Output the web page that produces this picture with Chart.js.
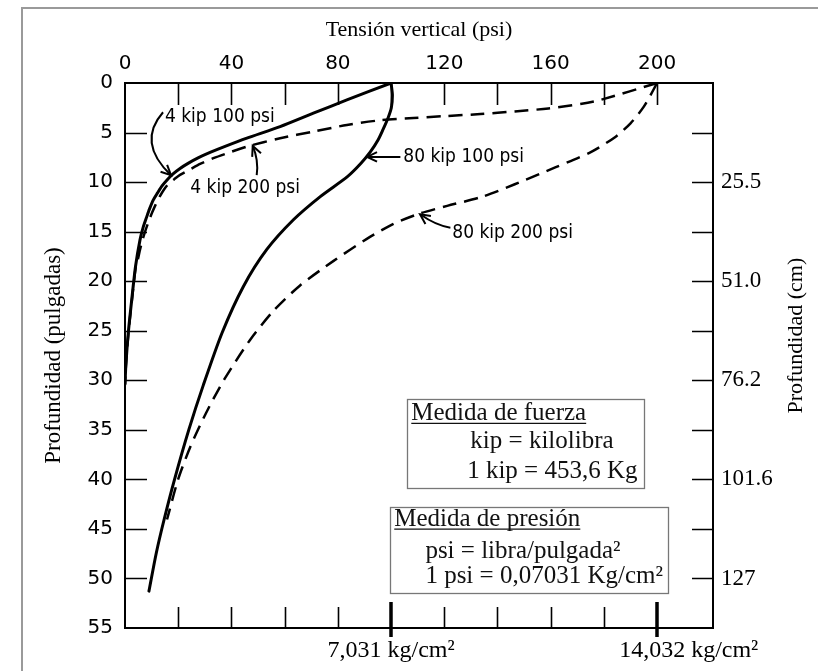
<!DOCTYPE html>
<html>
<head>
<meta charset="utf-8">
<script src="https://cdn.jsdelivr.net/npm/chart.js@4.4.1/dist/chart.umd.min.js"></script>
<style>
html,body{margin:0;padding:0;background:#fff;}
canvas{display:block;}
</style>
</head>
<body>
<canvas id="c" width="818" height="671"></canvas>
<script>
// ---- Data: depth (inches) vs vertical stress (psi) ----
const kip4psi100Depth  = [0, 1.71, 3.05, 4.4, 5.57, 6.40, 7.01, 7.56, 8.11, 8.62, 9.17, 9.78, 10.38, 11.09, 11.79, 12.70, 13.51, 14.62, 15.83, 18.52, 21.9, 25.2, 28.6, 30.4];
const kip4psi100Stress = [100, 83.4, 70.8, 58.3, 45.8, 37.62, 31.98, 27.46, 23.70, 20.69, 18.06, 15.80, 13.92, 12.23, 10.65, 9.22, 8.16, 6.77, 5.64, 3.95, 2.52, 1.24, 0.3, 0];

const kip4psi200Depth  = [0, 1.71, 2.09, 2.57, 2.87, 3.13, 3.33, 3.53, 3.76, 4.23, 4.91, 5.57, 6.42, 7.16, 7.59, 8.17, 8.72, 9.27, 9.73, 10.11, 10.74, 11.49, 12.30, 13.10, 14.01, 14.92, 15.83, 16.83, 17.84, 18.52, 21.9, 25.2, 28.6, 30.4];
const kip4psi200Stress = [200, 178.7, 171.7, 159.1, 146.5, 133.6, 121.1, 108.4, 96, 83.4, 70.8, 58.3, 45.8, 37.62, 33.22, 28.22, 24.45, 20.69, 18.43, 16.55, 14.67, 12.98, 11.47, 10.16, 8.84, 7.64, 6.58, 5.64, 4.82, 4.06, 2.6, 1.3, 0.33, 0];

const kip80psi100Depth  = [0, 1.2, 2.5, 3.5, 4.74, 5.75, 6.96, 8.1, 9.45, 11.46, 13.8, 16.8, 20.53, 25.2, 30.44, 34.98, 40.02, 44.05, 47.38, 51.28];
const kip80psi100Stress = [100, 100.5, 100.1, 98.9, 96.9, 95.1, 92.2, 88.7, 83.6, 73.4, 63.3, 53.3, 44.5, 36.5, 29.5, 24.0, 18.6, 14.7, 11.8, 9.0];

const kip80psi200Depth  = [0, 2.39, 4.07, 5.44, 7.0, 8.52, 10.22, 11.51, 12.4, 13.2, 14.22, 15.73, 17.95, 20.43, 22.99, 25.93, 29.94, 33.3, 36.66, 40.02, 44.05];
const kip80psi200Stress = [200, 195.0, 190.0, 184.3, 174.9, 161.7, 146.5, 133.9, 121.1, 110.5, 100.9, 90.9, 78.4, 65.8, 55.8, 47.0, 37.25, 30.47, 24.64, 19.94, 15.8];

// ---- Axis ticks / labels ----
const topTickValues   = [0, 40, 80, 120, 160, 200];
const topMinorTicks   = [20, 40, 60, 80, 100, 120, 140, 160, 180, 200];
const leftTickValues  = [0, 5, 10, 15, 20, 25, 30, 35, 40, 45, 50, 55];
const sideMinorTicks  = [5, 10, 15, 20, 25, 30, 35, 40, 45, 50];
const rightTickValues = [10, 20, 30, 40, 50];
const rightTickLabels = ['25.5', '51.0', '76.2', '101.6', '127'];
const bottomMajorTicks = [100, 200];
const bottomLabels    = ['7,031 kg/cm²', '14,032 kg/cm²'];

// ---- Annotations (in data units: psi, inches) ----
const curveLabels = [
  {text: '4 kip 100 psi',  x: 15.0,  y: 3.43},
  {text: '4 kip 200 psi',  x: 24.5,  y: 10.6},
  {text: '80 kip 100 psi', x: 104.6, y: 7.46},
  {text: '80 kip 200 psi', x: 123.0, y: 15.1}
];
const curveArrows = [
  {from: [14.3, 2.95], ctrl: [4.3, 6.0],   to: [17.3, 9.3]},
  {from: [49.5, 9.3],  ctrl: [50.3, 7.8],  to: [48.0, 6.35]},
  {from: [103.5, 7.46], ctrl: [97, 7.46],  to: [91.0, 7.46]},
  {from: [122.3, 14.6], ctrl: [117, 14.4], to: [110.9, 13.25]}
];
const forceBoxLines    = ['Medida de fuerza', 'kip = kilolibra', '1 kip = 453,6 Kg'];
const pressureBoxLines = ['Medida de presión', 'psi = libra/pulgada²', '1 psi = 0,07031 Kg/cm²'];

const SERIF = '"Liberation Serif", "Times New Roman", serif';
const SANS = '"DejaVu Sans", "Liberation Sans", sans-serif';
const NARROW = '"DejaVu Sans Condensed", "Liberation Sans", sans-serif';

function pts(depths, stresses) { return depths.map((d, i) => ({x: stresses[i], y: d})); }

const lineBase = {
  showLine: true, pointRadius: 0, borderColor: '#000', backgroundColor: '#000',
  tension: 0.25, xAxisID: 'x', yAxisID: 'y', fill: false, borderCapStyle: 'round'
};

const datasets = [
  Object.assign({}, lineBase, {label: '4 kip 200 psi', data: pts(kip4psi200Depth, kip4psi200Stress), borderWidth: 2.5, borderDash: [14, 8], borderCapStyle: 'butt'}),
  Object.assign({}, lineBase, {label: '80 kip 200 psi', data: pts(kip80psi200Depth, kip80psi200Stress), borderWidth: 2.5, borderDash: [14, 8], borderCapStyle: 'butt'}),
  Object.assign({}, lineBase, {label: '4 kip 100 psi', data: pts(kip4psi100Depth, kip4psi100Stress), borderWidth: 3}),
  Object.assign({}, lineBase, {label: '80 kip 100 psi', data: pts(kip80psi100Depth, kip80psi100Stress), borderWidth: 3})
];

const framePlugin = {
  id: 'frame',
  beforeDraw(chart) {
    const ctx = chart.ctx;
    ctx.save();
    ctx.fillStyle = '#fff';
    ctx.fillRect(0, 0, chart.width, chart.height);
    ctx.strokeStyle = '#9a9a9a';
    ctx.lineWidth = 2;
    ctx.beginPath();
    ctx.moveTo(22, chart.height);
    ctx.lineTo(22, 8);
    ctx.lineTo(chart.width, 8);
    ctx.stroke();
    ctx.restore();
  }
};

function arrowHead(ctx, x, y, angle, len) {
  const a = 0.45;
  ctx.beginPath();
  ctx.moveTo(x - len * Math.cos(angle - a), y - len * Math.sin(angle - a));
  ctx.lineTo(x, y);
  ctx.lineTo(x - len * Math.cos(angle + a), y - len * Math.sin(angle + a));
  ctx.stroke();
}

const decorPlugin = {
  id: 'decor',
  afterDraw(chart) {
    const ctx = chart.ctx;
    const sx = chart.scales.x, sy = chart.scales.y;
    const X = v => sx.getPixelForValue(v), Y = v => sy.getPixelForValue(v);
    const a = chart.chartArea;
    ctx.save();
    ctx.strokeStyle = '#000';
    ctx.lineCap = 'butt';
    // inward ticks
    ctx.lineWidth = 1.6;
    ctx.beginPath();
    topMinorTicks.forEach(v => { const p = Math.round(X(v)) + 0.5; ctx.moveTo(p, a.top); ctx.lineTo(p, a.top + 22); });
    sideMinorTicks.forEach(v => { const p = Math.round(Y(v)) + 0.5; ctx.moveTo(a.left, p); ctx.lineTo(a.left + 22, p); });
    sideMinorTicks.forEach(v => { const p = Math.round(Y(v)) + 0.5; ctx.moveTo(a.right, p); ctx.lineTo(a.right - 21, p); });
    topMinorTicks.forEach(v => { if (bottomMajorTicks.indexOf(v) < 0) { const p = Math.round(X(v)) + 0.5; ctx.moveTo(p, a.bottom); ctx.lineTo(p, a.bottom - 21); } });
    ctx.stroke();
    ctx.lineWidth = 3.5;
    ctx.beginPath();
    bottomMajorTicks.forEach(v => { const p = Math.round(X(v)); ctx.moveTo(p, a.bottom + 9); ctx.lineTo(p, a.bottom - 26); });
    ctx.stroke();

    // bottom labels
    ctx.fillStyle = '#000';
    ctx.font = '24px ' + SERIF;
    ctx.textBaseline = 'middle';
    ctx.textAlign = 'center';
    ctx.fillText(bottomLabels[0], X(bottomMajorTicks[0]), a.bottom + 23);
    ctx.textAlign = 'left';
    ctx.fillText(bottomLabels[1], X(bottomMajorTicks[1]) - 38, a.bottom + 23);

    // right axis title (reads bottom to top)
    ctx.save();
    ctx.translate(796, Y(25.5));
    ctx.rotate(-Math.PI / 2);
    ctx.textAlign = 'center';
    ctx.font = '22px ' + SERIF;
    ctx.fillText('Profundidad (cm)', 0, 0);
    ctx.restore();

    // curve labels
    ctx.font = '19px ' + NARROW;
    ctx.textAlign = 'left';
    ctx.textBaseline = 'middle';
    curveLabels.forEach(l => ctx.fillText(l.text, X(l.x), Y(l.y)));

    // arrows
    ctx.lineWidth = 2;
    curveArrows.forEach(ar => {
      const x0 = X(ar.from[0]), y0 = Y(ar.from[1]);
      const cx = X(ar.ctrl[0]), cy = Y(ar.ctrl[1]);
      const x1 = X(ar.to[0]), y1 = Y(ar.to[1]);
      ctx.beginPath();
      ctx.moveTo(x0, y0);
      ctx.quadraticCurveTo(cx, cy, x1, y1);
      ctx.stroke();
      arrowHead(ctx, x1, y1, Math.atan2(y1 - cy, x1 - cx), 11);
    });

    // info boxes
    function box(x0, y0, x1, y1, lines, pos) {
      ctx.lineWidth = 1.3;
      ctx.strokeStyle = '#777';
      ctx.strokeRect(Math.round(X(x0)) + 0.5, Math.round(Y(y0)) + 0.5, Math.round(X(x1) - X(x0)), Math.round(Y(y1) - Y(y0)));
      ctx.fillStyle = '#111';
      ctx.strokeStyle = '#111';
      ctx.font = '25px ' + SERIF;
      ctx.textAlign = 'left';
      ctx.textBaseline = 'alphabetic';
      lines.forEach((t, i) => {
        const tx = X(pos[i][0]), ty = Y(pos[i][1]);
        ctx.fillText(t, tx, ty);
        if (i === 0) {
          const w = ctx.measureText(t).width;
          ctx.lineWidth = 1.3;
          ctx.beginPath();
          ctx.moveTo(tx, ty + 3.5); ctx.lineTo(tx + w, ty + 3.5);
          ctx.stroke();
        }
      });
    }
    box(106.1, 31.9, 195.1, 40.9, forceBoxLines, [[107.6, 34.0], [129.8, 36.8], [128.6, 39.9]]);
    box(99.7, 42.8, 204.3, 51.46, pressureBoxLines, [[101.2, 44.66], [112.9, 47.9], [112.9, 50.5]]);
    ctx.restore();
  }
};

new Chart(document.getElementById('c'), {
  type: 'scatter',
  data: {datasets},
  options: {
    responsive: false,
    animation: false,
    layout: {padding: 0},
    plugins: {legend: {display: false}, tooltip: {enabled: false}},
    scales: {
      x: {
        type: 'linear', position: 'top', min: 0, max: 221,
        grid: {display: false, drawTicks: false},
        border: {display: true, color: '#000', width: 2},
        afterBuildTicks: s => { s.ticks = topTickValues.map(v => ({value: v})); },
        afterFit: s => { s.height = 83; },
        ticks: {padding: 7, color: '#000', maxRotation: 0, autoSkip: false, font: {family: SANS, size: 20}},
        title: {display: true, text: 'Tensión vertical (psi)', color: '#000', font: {family: SERIF, size: 22}, padding: {top: 17, bottom: 0}}
      },
      x2: {
        type: 'linear', position: 'bottom', min: 0, max: 221,
        grid: {display: false, drawTicks: false},
        border: {display: true, color: '#000', width: 2},
        ticks: {display: false},
        afterFit: s => { s.height = 43; }
      },
      y: {
        type: 'linear', position: 'left', reverse: true, min: 0, max: 55,
        grid: {display: false, drawTicks: false},
        border: {display: true, color: '#000', width: 2},
        afterBuildTicks: s => { s.ticks = leftTickValues.map(v => ({value: v})); },
        afterFit: s => { s.width = 125; },
        ticks: {padding: 12, color: '#000', autoSkip: false, font: {family: SANS, size: 20}},
        title: {display: true, text: 'Profundidad (pulgadas)', color: '#000', font: {family: SERIF, size: 23}, padding: {top: 40, bottom: 0}}
      },
      y2: {
        type: 'linear', position: 'right', reverse: true, min: 0, max: 55,
        grid: {display: false, drawTicks: false},
        border: {display: true, color: '#000', width: 2},
        afterBuildTicks: s => { s.ticks = rightTickValues.map(v => ({value: v})); },
        afterFit: s => { s.width = 105; },
        ticks: {padding: 8, color: '#000', autoSkip: false, font: {family: SERIF, size: 23},
          callback: v => rightTickLabels[rightTickValues.indexOf(v)]}
      }
    }
  },
  plugins: [framePlugin, decorPlugin]
});
</script>
</body>
</html>
